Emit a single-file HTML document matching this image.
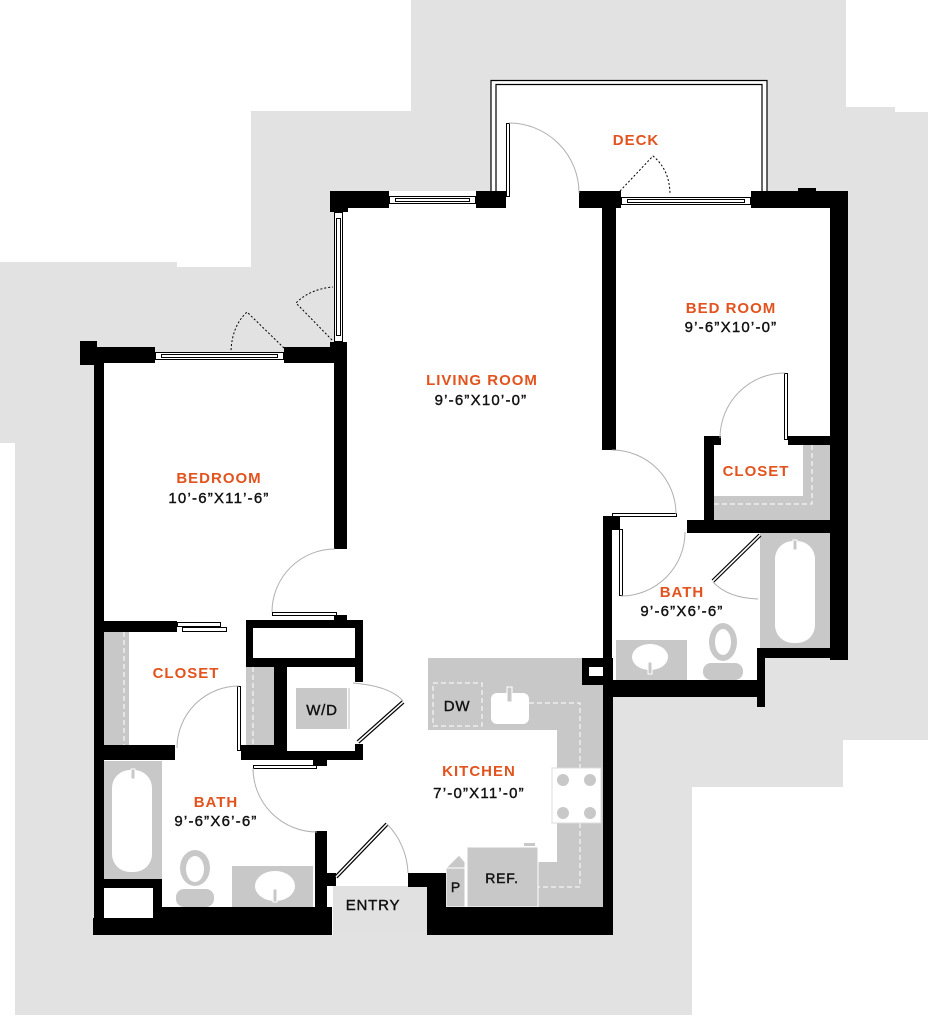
<!DOCTYPE html>
<html><head><meta charset="utf-8"><style>
html,body{margin:0;padding:0;background:#fff;}
svg{display:block;}
.t{font-family:"Liberation Sans",sans-serif;font-weight:bold;font-size:15px;fill:#e2531d;letter-spacing:1px;text-anchor:middle;}
.d{font-family:"Liberation Sans",sans-serif;font-size:15px;fill:#111;stroke:#111;stroke-width:0.4;letter-spacing:1.2px;text-anchor:middle;}
.l{font-family:"Liberation Sans",sans-serif;font-size:15px;fill:#111;stroke:#111;stroke-width:0.4;letter-spacing:0.8px;text-anchor:middle;}
</style></head><body>
<svg width="928" height="1016" viewBox="0 0 928 1016" xmlns="http://www.w3.org/2000/svg">
<rect width="928" height="1016" fill="#fff"/>
<path d="M411,0 H846 V107 H895 V112 H928 V740 H843 V787 H692 V1015 H15 V443 H0 V262 H177 V267 H251 V111 H411 Z" fill="#e2e2e2"/>
<path d="M94,355 H334 V191 H491 V80 H767 V191 H848 V658 H765 V697 H613 V935 H94 Z" fill="#fff"/>
<rect x="333" y="886" width="94" height="49" fill="#e1e1e1"/>
<path d="M491,191 V80.5 H767 V191" fill="none" stroke="#000" stroke-width="1.2"/>
<path d="M496,191 V84.5 H762 V191" fill="none" stroke="#000" stroke-width="1.2"/>
<g fill="#c8c8c8">
<rect x="104" y="632" width="25" height="113"/>
<rect x="246" y="667" width="28" height="78"/>
<rect x="296" y="688" width="51" height="41"/>
<rect x="348" y="688" width="2" height="41" fill="#ddd"/>
<rect x="104" y="761" width="58" height="118"/>
<rect x="232" y="866" width="81" height="41"/>
<ellipse cx="195" cy="868" rx="15" ry="18"/>
<rect x="176" y="889" width="38" height="18" rx="8"/>
<rect x="803" y="445" width="27" height="75"/>
<rect x="714" y="496" width="116" height="24"/>
<rect x="760" y="533" width="70" height="115"/>
<rect x="616" y="640" width="71" height="40"/>
<ellipse cx="723" cy="642" rx="14" ry="19"/>
<rect x="703" y="663" width="40" height="17" rx="8"/>
<path d="M428,658 H603 V907 H538 V862 H557 V730 H428 Z"/>
</g>
<g fill="#fff">
<rect x="112" y="770" width="40" height="102" rx="18"/>
<rect x="775" y="541" width="40" height="102" rx="18"/>
<ellipse cx="195" cy="869" rx="9" ry="13"/>
<ellipse cx="723" cy="642" rx="8" ry="13"/>
<ellipse cx="275" cy="886" rx="20" ry="15"/>
<ellipse cx="650" cy="657" rx="18" ry="13"/>
<rect x="491" y="693" width="38" height="31" rx="6"/>
</g>
<g fill="#c8c8c8" stroke="#fff" stroke-width="1">
<rect x="131" y="769" width="4" height="10"/>
<rect x="793" y="540" width="4" height="10"/>
<rect x="273" y="889" width="4" height="13"/>
<rect x="648" y="662" width="4" height="12"/>
<rect x="507" y="687" width="5" height="15"/>
</g>
<g fill="none" stroke="#fff" stroke-width="1" stroke-dasharray="5,3">
<line x1="124" y1="632" x2="124" y2="745"/>
<line x1="253" y1="667" x2="253" y2="745"/>
<path d="M812,445 V504 H714"/>
<rect x="433" y="683" width="49" height="43"/>
<path d="M529,703 H580 V768"/>
<path d="M580,823 V887 H538"/>
</g>
<rect x="552" y="768" width="49" height="55" fill="#fff" stroke="#ddd"/>
<g fill="#c8c8c8">
<circle cx="563" cy="780" r="6"/><circle cx="590" cy="780" r="6"/>
<circle cx="563" cy="813" r="6"/><circle cx="590" cy="813" r="6"/>
</g>
<rect x="467" y="847" width="71" height="60" fill="#c8c8c8" stroke="#fff" stroke-width="1"/>
<rect x="524" y="843" width="11" height="3" fill="#c8c8c8"/>
<path d="M446,907 V868 L459,855 L465,862 V907 Z" fill="#c8c8c8" stroke="#fff" stroke-width="1"/>
<line x1="446" y1="868" x2="465" y2="868" stroke="#fff"/>
<g fill="#000">
<rect x="80" y="341" width="17" height="24"/>
<rect x="97" y="347" width="58" height="16"/>
<rect x="284" y="347" width="63" height="16"/>
<rect x="330" y="342" width="17" height="21"/>
<rect x="334" y="363" width="13" height="186"/>
<rect x="330" y="191" width="59" height="17"/>
<rect x="330" y="208" width="18" height="4"/>
<rect x="476" y="191" width="30" height="17"/>
<rect x="579" y="191" width="42" height="17"/>
<rect x="602" y="208" width="14" height="242"/>
<rect x="751" y="191" width="97" height="17"/>
<rect x="798" y="188" width="18" height="4"/>
<rect x="830" y="208" width="18" height="452"/>
<rect x="757" y="648" width="91" height="10"/>
<rect x="757" y="648" width="8" height="59"/>
<rect x="603" y="680" width="162" height="17"/>
<rect x="704" y="436" width="10" height="97"/>
<rect x="704" y="436" width="17" height="9"/>
<rect x="788" y="436" width="42" height="9"/>
<rect x="687" y="520" width="161" height="13"/>
<rect x="603" y="516" width="9" height="181"/>
<rect x="603" y="516" width="17" height="14"/>
<rect x="582" y="658" width="31" height="27"/>
<rect x="603" y="685" width="10" height="250"/>
<rect x="427" y="907" width="186" height="28"/>
<rect x="408" y="873" width="38" height="14"/>
<rect x="427" y="873" width="19" height="62"/>
<rect x="93" y="918" width="239" height="17"/>
<rect x="162" y="907" width="170" height="11"/>
<rect x="94" y="363" width="10" height="555"/>
<rect x="104" y="879" width="58" height="9"/>
<rect x="153" y="879" width="9" height="39"/>
<rect x="315" y="831" width="12" height="104"/>
<rect x="327" y="873" width="9" height="13"/>
<rect x="104" y="621" width="73" height="11"/>
<rect x="104" y="745" width="71" height="15"/>
<rect x="241" y="745" width="34" height="15"/>
<rect x="274" y="667" width="13" height="93"/>
<rect x="246" y="620" width="117" height="47"/>
<rect x="355" y="667" width="8" height="15"/>
<rect x="355" y="744" width="8" height="16"/>
<rect x="274" y="751" width="89" height="9"/>
<rect x="313" y="760" width="14" height="6"/>
<rect x="334" y="615" width="13" height="5"/>
</g>
<g fill="#fff">
<rect x="589" y="667" width="14" height="9"/>
<rect x="253" y="628" width="102" height="30"/>
<rect x="104" y="888" width="49" height="30"/>
</g>
<g fill="#fff" stroke="#000" stroke-width="1">
<rect x="155.5" y="352.5" width="128" height="7"/>
<rect x="161.5" y="354.5" width="116" height="3" fill="none"/>
<rect x="389.5" y="196.5" width="86" height="7"/>
<rect x="395.5" y="198.5" width="74" height="3" fill="none"/>
<rect x="621.5" y="197.5" width="129" height="7"/>
<rect x="627.5" y="199.5" width="117" height="3" fill="none"/>
<rect x="334.5" y="212.5" width="8" height="129"/>
<rect x="336.5" y="218.5" width="4" height="117" fill="none"/>
</g>
<g fill="#fff" stroke="#000" stroke-width="1">
<rect x="506.5" y="123.5" width="3" height="73"/>
<rect x="272.5" y="612.5" width="64" height="3"/>
<rect x="612.5" y="513.5" width="64" height="3"/>
<rect x="619.5" y="529.5" width="3" height="66"/>
<rect x="784.5" y="373.5" width="3" height="66"/>
<rect x="237.5" y="686.5" width="3" height="64"/>
<rect x="253.5" y="765.5" width="63" height="3"/>
<rect x="177.5" y="622.5" width="43" height="4"/>
<rect x="182.5" y="627.5" width="44" height="4"/>
</g>
<g stroke="#000" stroke-width="4">
<line x1="713" y1="581" x2="760" y2="535"/>
<line x1="358" y1="742" x2="403" y2="702"/>
<line x1="336" y1="877" x2="387" y2="824"/>
</g>
<g stroke="#fff" stroke-width="1.6">
<line x1="713" y1="581" x2="760" y2="535"/>
<line x1="358" y1="742" x2="403" y2="702"/>
<line x1="336" y1="877" x2="387" y2="824"/>
</g>
<g fill="none" stroke="#b0b0b0" stroke-width="1">
<path d="M509,123 A70,70 0 0 1 579,193"/>
<path d="M272,612 A63,63 0 0 1 335,549"/>
<path d="M612,450 A64,64 0 0 1 676,514"/>
<path d="M621,596 A64,64 0 0 0 685,532"/>
<path d="M785,373 A65,65 0 0 0 720,438"/>
<path d="M239,686 A62,62 0 0 0 177,748"/>
<path d="M253,768 A64,64 0 0 0 317,832"/>
<path d="M713,582 Q728,598 758,599"/>
<path d="M353,683 Q390,686 403,701"/>
<path d="M387,824 A73,73 0 0 1 408,873"/>
</g>
<g fill="none" stroke="#000" stroke-width="1" stroke-dasharray="2,2">
<path d="M620,191 L653,156 Q670,170 670,195"/>
<path d="M284,348 L247,312 Q232,326 231,351"/>
<path d="M332,340 L296,303 Q310,289 333,287"/>
</g>
<text class="t" x="636" y="145">DECK</text>
<text class="t" x="731" y="313">BED ROOM</text>
<text class="d" x="731" y="332">9’-6”X10’-0”</text>
<text class="t" x="482" y="385">LIVING ROOM</text>
<text class="d" x="481" y="405">9’-6”X10’-0”</text>
<text class="t" x="219" y="483">BEDROOM</text>
<text class="d" x="219" y="503">10’-6”X11’-6”</text>
<text class="t" x="756" y="476">CLOSET</text>
<text class="t" x="682" y="597">BATH</text>
<text class="d" x="682" y="616">9’-6”X6’-6”</text>
<text class="t" x="186" y="678">CLOSET</text>
<text class="l" x="322" y="715">W/D</text>
<text class="l" x="457" y="711">DW</text>
<text class="t" x="479" y="776">KITCHEN</text>
<text class="d" x="479" y="798">7’-0”X11’-0”</text>
<text class="t" x="216" y="807">BATH</text>
<text class="d" x="216" y="826">9’-6”X6’-6”</text>
<text class="l" x="502" y="883" style="font-size:14px">REF.</text>
<text class="l" x="456" y="892" style="font-size:14px">P</text>
<text class="l" x="373" y="910">ENTRY</text>
</svg>
</body></html>
